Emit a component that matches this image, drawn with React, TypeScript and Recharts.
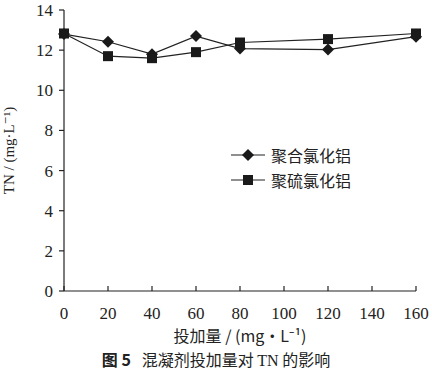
import { LineChart, Line, XAxis, YAxis } from "recharts";

const doses = [0, 20, 40, 60, 80, 120, 160];
const pacTN = [12.8, 12.42, 11.8, 12.7, 12.08, 12.03, 12.67];
const psacTN = [12.83, 11.7, 11.6, 11.9, 12.38, 12.55, 12.83];
const xTicks = [0, 20, 40, 60, 80, 100, 120, 140, 160];
const yTicks = [0, 2, 4, 6, 8, 10, 12, 14];
const seriesNames = ["聚合氯化铝", "聚硫氯化铝"];

const data = doses.map((d, i) => ({ dose: d, pac: pacTN[i], psac: psacTN[i] }));

const serif = "'Liberation Serif', 'DejaVu Serif', serif";
const cjk = "'Noto Sans CJK SC', 'Noto Sans', sans-serif";

const Diamond = (props: any) => {
  const { cx, cy } = props;
  if (cx == null || cy == null) return null;
  const r = 6;
  return (
    <path
      d={`M${cx},${cy - r} L${cx + r},${cy} L${cx},${cy + r} L${cx - r},${cy} Z`}
      fill="#1a1a1a"
    />
  );
};

const Square = (props: any) => {
  const { cx, cy } = props;
  if (cx == null || cy == null) return null;
  const r = 5;
  return <rect x={cx - r} y={cy - r} width={r * 2} height={r * 2} fill="#1a1a1a" />;
};

const XTick = (props: any) => {
  const { x, y, payload } = props;
  return (
    <g>
      <line x1={x} y1={y} x2={x} y2={y - 5} stroke="#222" strokeWidth={1.2} />
      <text x={x} y={y + 28} textAnchor="middle" fontFamily={serif} fontSize={17} fill="#222">
        {payload.value}
      </text>
    </g>
  );
};

const YLabel = (props: any) => {
  const { viewBox } = props;
  const cx = viewBox.x + 14;
  const cy = viewBox.y + viewBox.height / 2;
  return (
    <text
      x={cx}
      y={cy}
      transform={`rotate(-90, ${cx}, ${cy})`}
      textAnchor="middle"
      fontFamily={serif}
      fontSize={15}
      fill="#222"
    >
      TN / (mg·L⁻¹)
    </text>
  );
};

const LegendBox = () => (
  <div style={{ fontFamily: cjk, fontSize: 16, color: "#222" }}>
    {seriesNames.map((name, i) => (
      <div key={name} style={{ display: "flex", alignItems: "center", height: 25 }}>
        <svg width={34} height={14}>
          <line x1={0} y1={7} x2={34} y2={7} stroke="#222" strokeWidth={1.2} />
          {i === 0 ? (
            <path d="M17,1 L23,7 L17,13 L11,7 Z" fill="#1a1a1a" />
          ) : (
            <rect x={12} y={2} width={10} height={10} fill="#1a1a1a" />
          )}
        </svg>
        <span style={{ marginLeft: 6 }}>{name}</span>
      </div>
    ))}
  </div>
);

const App = () => {
  return (
    <div style={{ position: "absolute", left: 0, top: 0, width: 432, height: 374, background: "#fff" }}>
      <LineChart
        width={432}
        height={374}
        data={data}
        margin={{ top: 10, right: 16, left: 0, bottom: 53 }}
      >
        <XAxis
          dataKey="dose"
          type="number"
          domain={[0, 160]}
          ticks={xTicks}
          interval={0}
          height={30}
          tickSize={0}
          tickMargin={0}
          tickLine={false}
          tick={<XTick />}
          stroke="#222"
          strokeWidth={1.2}
          label={{
            value: "投加量 / (mg·L⁻¹)",
            position: "insideBottom",
            offset: -21,
            style: { fontFamily: cjk, fontSize: 16, fill: "#222" },
          }}
        />
        <YAxis
          type="number"
          domain={[0, 14]}
          ticks={yTicks}
          interval={0}
          width={64}
          tickSize={5}
          tickMargin={6}
          stroke="#222"
          strokeWidth={1.2}
          tick={{ fontFamily: serif, fontSize: 17, fill: "#222" }}
          label={<YLabel />}
        />
        <Line
          dataKey="pac"
          name={seriesNames[0]}
          stroke="#222"
          strokeWidth={1.2}
          dot={<Diamond />}
          activeDot={false}
          isAnimationActive={false}
        />
        <Line
          dataKey="psac"
          name={seriesNames[1]}
          stroke="#222"
          strokeWidth={1.2}
          dot={<Square />}
          activeDot={false}
          isAnimationActive={false}
        />
      </LineChart>
      <div style={{ position: "absolute", left: 231, top: 142 }}>
        <LegendBox />
      </div>
      <div
        style={{
          position: "absolute",
          left: 0,
          top: 347,
          width: 432,
          textAlign: "center",
          fontFamily: cjk,
          fontSize: 16,
          color: "#222",
          whiteSpace: "pre",
        }}
      >
        <span style={{ fontWeight: 600 }}>图 5</span>
        {"   混凝剂投加量对 "}
        <span style={{ fontFamily: serif }}>TN</span>
        {" 的影响"}
      </div>
    </div>
  );
};

export default App;
